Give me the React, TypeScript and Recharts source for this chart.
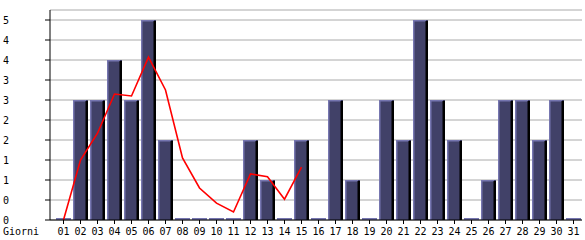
import React from "react";
import {
  Bar,
  CartesianGrid,
  ComposedChart,
  Line,
  XAxis,
  YAxis,
} from "recharts";

const DAYS = [
  "01", "02", "03", "04", "05", "06", "07", "08", "09", "10",
  "11", "12", "13", "14", "15", "16", "17", "18", "19", "20",
  "21", "22", "23", "24", "25", "26", "27", "28", "29", "30", "31",
];
const VISITS = [0, 3, 3, 4, 3, 5, 2, 0, 0, 0, 0, 2, 1, 0, 2, 0, 3, 1, 0, 3, 2, 5, 3, 2, 0, 1, 3, 3, 2, 3, 0];
const TREND = [0, 1.5, 2.17, 3.15, 3.1, 4.07, 3.25, 1.55, 0.8, 0.42, 0.2, 1.15, 1.08, 0.52, 1.32];
const Y_TICKS = [0, 0.5, 1, 1.5, 2, 2.5, 3, 3.5, 4, 4.5, 5];

const data = DAYS.map((d, i) => ({
  day: d,
  visits: VISITS[i],
  trend: i < TREND.length ? TREND[i] : null,
}));

const FONT = "'DejaVu Sans Mono', monospace";

function Bar3D(props: any) {
  const { x, y, width, height } = props;
  if (!height || height < 1) {
    return <rect x={x} y={y - 2} width={width} height={2} fill="#7676b0" />;
  }
  return (
    <g>
      <rect x={x} y={y} width={width} height={height} fill="#414168" />
      <rect x={x} y={y} width={width - 2} height={1.5} fill="#7676b0" />
      <rect x={x} y={y} width={1.5} height={height} fill="#7676b0" />
      <rect x={x + width - 2.5} y={y + 1} width={2.5} height={height - 1} fill="#000" />
    </g>
  );
}

function YTick(props: any) {
  const { y, payload } = props;
  return (
    <text x={3} y={y + 4} fontSize={10} fontFamily={FONT} fill="#000">
      {Math.floor(payload.value)}
    </text>
  );
}

function XTick(props: any) {
  const { x, payload } = props;
  return (
    <text x={x} y={235} textAnchor="middle" fontSize={10} fontFamily={FONT} fill="#000">
      {payload.value}
    </text>
  );
}

export default function App() {
  return (
    <div style={{ position: "absolute", left: 0, top: 0, background: "#fff" }}>
      <ComposedChart
        width={585}
        height={240}
        data={data}
        margin={{ top: 10, right: 3, bottom: 0, left: 0 }}
        barCategoryGap={2}
      >
        <CartesianGrid vertical={false} stroke="#aaaaaa" strokeWidth={1} />
        <XAxis
          dataKey="day"
          interval={0}
          height={20}
          padding={{ left: 5, right: 0 }}
          stroke="#000"
          tickSize={4}
          tick={<XTick />}
          label={() => (
            <text x={3} y={235} fontSize={10} fontFamily={FONT} fill="#000">
              Giorni
            </text>
          )}
        />
        <XAxis xAxisId="top" dataKey="day" orientation="top" height={0} tick={false} tickLine={false} stroke="#000" />
        <YAxis
          domain={[0, 5.25]}
          ticks={Y_TICKS}
          interval={0}
          width={50}
          stroke="#000"
          tickSize={5}
          tick={<YTick />}
          allowDataOverflow
        />
        <YAxis yAxisId="right" orientation="right" width={0} tick={false} tickLine={false} stroke="#000" />
        <Bar dataKey="visits" barSize={15} shape={<Bar3D />} isAnimationActive={false} />
        <Line
          dataKey="trend"
          type="linear"
          stroke="#ff0000"
          strokeWidth={1.6}
          dot={false}
          activeDot={false}
          connectNulls={false}
          isAnimationActive={false}
        />
      </ComposedChart>
    </div>
  );
}
